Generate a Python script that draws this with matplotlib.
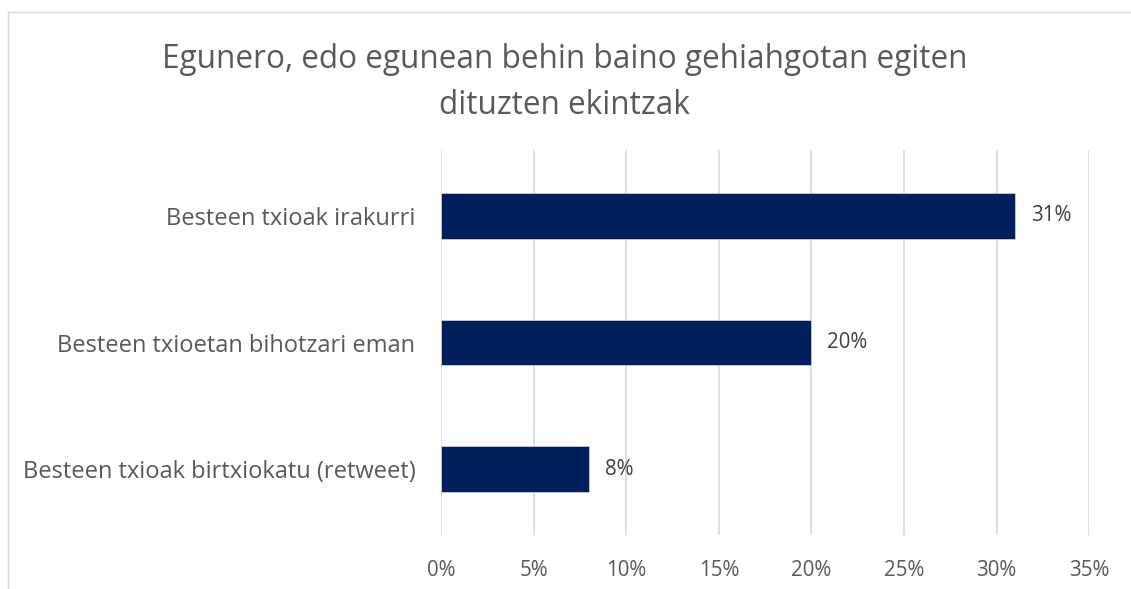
import matplotlib.pyplot as plt
from matplotlib.lines import Line2D

plt.rcParams['font.family'] = ['Open Sans', 'DejaVu Sans']

categories = ["Besteen txioak irakurri",
              "Besteen txioetan bihotzari eman",
              "Besteen txioak birtxiokatu (retweet)"]
values = [0.31, 0.20, 0.08]
value_labels = ["31%", "20%", "8%"]
x_ticks = [0, 0.05, 0.10, 0.15, 0.20, 0.25, 0.30, 0.35]
x_tick_labels = ["0%", "5%", "10%", "15%", "20%", "25%", "30%", "35%"]
title = "Egunero, edo egunean behin baino gehiahgotan egiten\ndituzten ekintzak"

fig = plt.figure(figsize=(11.31, 5.89), dpi=100)
ax = fig.add_axes([0.39, 0.092, 0.573, 0.653])

# chart border (partly cut off in the original)
fig.add_artist(Line2D([0.0071, 0.0071], [0, 0.9796], color="#D9D9D9", lw=1))
fig.add_artist(Line2D([0.0071, 1], [0.9796, 0.9796], color="#D9D9D9", lw=1))

pos = list(range(len(categories)))
ax.barh(pos, values, height=0.36, color="#001F5C", edgecolor="#C8CCD8",
        linewidth=0.6, zorder=3)
for p, v, lab in zip(pos, values, value_labels):
    ax.text(v + 0.0085, p, lab, va="center", ha="left", fontsize=14.8,
            color="#404040")

ax.set_xlim(0, 0.35)
ax.set_ylim(2.52, -0.52)
ax.set_xticks(x_ticks)
ax.set_xticklabels(x_tick_labels)
ax.set_yticks(pos)
ax.set_yticklabels(categories)
ax.tick_params(axis="both", length=0, labelcolor="#595959")
ax.tick_params(axis="y", pad=18.5, labelsize=17)
ax.tick_params(axis="x", pad=18, labelsize=14.8)
ax.grid(axis="x", color="#D9D9D9", lw=1.2, zorder=0)
for s in ax.spines.values():
    s.set_visible(False)

fig.text(0.499, 0.86, title, ha="center", va="center", fontsize=22.7,
         color="#595959", linespacing=1.55)

fig.savefig("out.png", dpi=100)
